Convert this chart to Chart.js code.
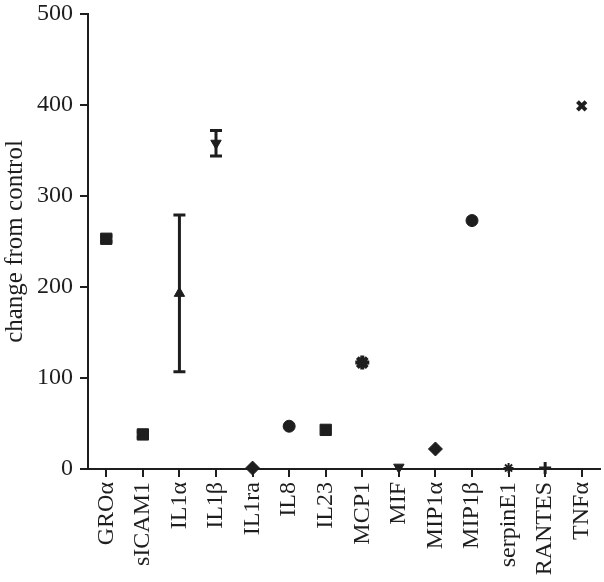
<!DOCTYPE html>
<html>
<head>
  <title>change from control</title>
  <script src="https://cdn.jsdelivr.net/npm/chart.js"></script>
  <style>
    body { margin: 0; background: #fff; }
  </style>
</head>
<body>
  <canvas id="myChart" width="604" height="582"></canvas>
  <script>
    // 数据
    const cytokines = ['GROα', 'sICAM1', 'IL1α', 'IL1β', 'IL1ra', 'IL8', 'IL23', 'MCP1', 'MIF', 'MIP1α', 'MIP1β', 'serpinE1', 'RANTES', 'TNFα'];
    const means = [253, 38, 193, 358, 1, 47, 43, 117, 2, 22, 273, 1, 1, 399];
    const errors = [3, 3, 86, 14, 0, 0, 0, 0, 0, 0, 0, 0, 0, 0];
    const yTicks = [0, 100, 200, 300, 400, 500];

    // 点样式
    const styles = ['rect', 'rect', 'triangle', 'triangle', 'rectRot', 'circle', 'rect', 'star', 'triangle', 'rectRot', 'circle', 'star', 'cross', 'crossRot'];
    const rotations = [0, 0, 0, 180, 0, 0, 0, 0, 180, 0, 0, 0, 0, 0];
    const radii = [8, 8, 6, 6, 7, 6, 8, 7, 6, 7, 6, 5, 6, 6];
    const borders = [1, 1, 1, 1, 1, 1, 1, 4, 1, 1, 1, 2, 3, 4];

    const INK = '#1e1e1e';
    const FONT = "'Liberation Serif', 'Times New Roman', serif";

    // 误差线
    const errorBars = {
      id: 'errorBars',
      beforeDatasetsDraw(chart) {
        const { ctx, scales: { x, y } } = chart;
        ctx.save();
        ctx.strokeStyle = INK;
        ctx.lineWidth = 3;
        errors.forEach((e, i) => {
          if (!e) return;
          const px = x.getPixelForValue(i);
          const top = y.getPixelForValue(means[i] + e);
          const bot = y.getPixelForValue(means[i] - e);
          ctx.beginPath();
          ctx.moveTo(px, top); ctx.lineTo(px, bot);
          ctx.moveTo(px - 6, top); ctx.lineTo(px + 6, top);
          ctx.moveTo(px - 6, bot); ctx.lineTo(px + 6, bot);
          ctx.stroke();
        });
        ctx.restore();
      }
    };

    new Chart(document.getElementById('myChart'), {
      type: 'line',
      data: {
        labels: cytokines,
        datasets: [{
          data: means,
          showLine: false,
          clip: false,
          pointStyle: styles,
          rotation: rotations,
          pointRadius: radii,
          pointBorderWidth: borders,
          pointBackgroundColor: INK,
          pointBorderColor: INK
        }]
      },
      options: {
        responsive: false,
        animation: false,
        layout: { autoPadding: false, padding: { top: 14, right: 4, left: 0, bottom: 0 } },
        plugins: { legend: { display: false }, tooltip: { enabled: false } },
        scales: {
          x: {
            type: 'category',
            offset: true,
            afterFit: s => { s.height = 113; s.paddingLeft = 0; s.paddingRight = 0; },
            grid: { drawOnChartArea: false, tickLength: 8, color: INK, lineWidth: 2, offset: false },
            border: { color: INK, width: 2 },
            ticks: {
              color: INK, maxRotation: 90, minRotation: 90, padding: 5,
              font: { family: FONT, size: 24 }
            }
          },
          y: {
            min: 0, max: 500,
            afterFit: s => { s.width = 88; s.paddingTop = 0; s.paddingBottom = 0; },
            afterBuildTicks: s => { s.ticks = yTicks.map(v => ({ value: v })); },
            grid: { drawOnChartArea: false, tickLength: 8, color: INK, lineWidth: 2 },
            border: { color: INK, width: 2 },
            ticks: { color: INK, padding: 7, font: { family: FONT, size: 24 } },
            title: {
              display: true, text: 'change from control', color: INK, padding: 0,
              font: { family: FONT, size: 25 }
            }
          }
        }
      },
      plugins: [errorBars]
    });
  </script>
</body>
</html>
